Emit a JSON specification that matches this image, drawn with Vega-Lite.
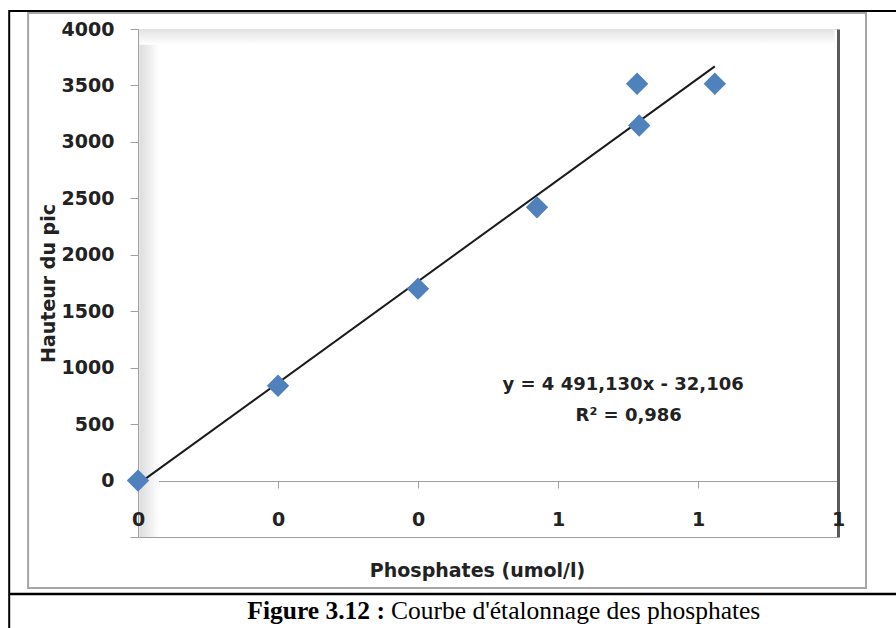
{
  "$schema": "https://vega.github.io/schema/vega-lite/v6.json",
  "width": 700,
  "height": 508,
  "autosize": {"type": "none"},
  "padding": {"left": 138, "top": 29, "right": 58, "bottom": 91},
  "background": "white",
  "config": {
    "view": {"stroke": "#d4d4d4", "strokeWidth": 1},
    "font": "DejaVu Sans"
  },
  "data": {
    "values": [
      {"phosphates": 0.0, "hauteur": 0},
      {"phosphates": 0.2, "hauteur": 840},
      {"phosphates": 0.4, "hauteur": 1700},
      {"phosphates": 0.57, "hauteur": 2420},
      {"phosphates": 0.713, "hauteur": 3515},
      {"phosphates": 0.716, "hauteur": 3145},
      {"phosphates": 0.824, "hauteur": 3515}
    ]
  },
  "resolve": {"axis": {"x": "independent", "y": "independent"}},
  "layer": [
    {
      "data": {"values": [{}]},
      "mark": {
        "type": "rect",
        "color": {
          "gradient": "linear", "x1": 0, "y1": 0, "x2": 1, "y2": 0,
          "stops": [{"offset": 0, "color": "#dcdcdc"}, {"offset": 1, "color": "#ffffff"}]
        }
      },
      "encoding": {
        "x": {"datum": 0.002, "type": "quantitative", "scale": {"domain": [0, 1], "nice": false}, "axis": null},
        "x2": {"datum": 0.03},
        "y": {"datum": -500, "type": "quantitative", "scale": {"domain": [-500, 4000], "nice": false}, "axis": null},
        "y2": {"datum": 3990}
      }
    },
    {
      "data": {"values": [{}]},
      "mark": {
        "type": "rect",
        "color": {
          "gradient": "linear", "x1": 0, "y1": 0, "x2": 0, "y2": 1,
          "stops": [{"offset": 0, "color": "#e2e2e2"}, {"offset": 1, "color": "#ffffff"}]
        }
      },
      "encoding": {
        "x": {"datum": 0.002, "type": "quantitative", "scale": {"domain": [0, 1], "nice": false}, "axis": null},
        "x2": {"datum": 0.995},
        "y": {"datum": 4000, "type": "quantitative", "scale": {"domain": [-500, 4000], "nice": false}, "axis": null},
        "y2": {"datum": 3860}
      }
    },
    {
      "data": {"values": [{}]},
      "mark": {"type": "rect", "filled": false, "color": "#a6a6a6", "strokeWidth": 2},
      "encoding": {
        "x": {"datum": -0.157, "type": "quantitative", "scale": {"domain": [0, 1], "nice": false}, "axis": null},
        "x2": {"datum": 1.04},
        "y": {"datum": 4141, "type": "quantitative", "scale": {"domain": [-500, 4000], "nice": false}, "axis": null},
        "y2": {"datum": -952}
      }
    },
    {
      "data": {"values": [{}]},
      "mark": {"type": "rect", "filled": false, "color": "#000000", "strokeWidth": 2},
      "encoding": {
        "x": {"datum": -0.184, "type": "quantitative", "scale": {"domain": [0, 1], "nice": false}, "axis": null},
        "x2": {"datum": 1.25},
        "y": {"datum": 4159, "type": "quantitative", "scale": {"domain": [-500, 4000], "nice": false}, "axis": null},
        "y2": {"datum": -1600}
      }
    },
    {
      "data": {"values": [{}]},
      "mark": {"type": "rule", "color": "#000000", "strokeWidth": 2.5},
      "encoding": {
        "x": {"datum": -0.184, "type": "quantitative", "scale": {"domain": [0, 1], "nice": false}, "axis": null},
        "x2": {"datum": 1.25},
        "y": {"datum": -1005, "type": "quantitative", "scale": {"domain": [-500, 4000], "nice": false}, "axis": null}
      }
    },
    {
      "data": {
        "values": [
          {"phosphates": 0, "hauteur": -32.106},
          {"phosphates": 0.824, "hauteur": 3668.6}
        ]
      },
      "mark": {"type": "line", "color": "#1a1a1a", "strokeWidth": 2},
      "encoding": {
        "x": {
          "field": "phosphates", "type": "quantitative",
          "scale": {"domain": [0, 1], "nice": false},
          "axis": {
            "orient": "bottom", "offset": -56, "labels": false, "title": null, "grid": false,
            "values": [0, 0.2, 0.4, 0.6, 0.8, 1],
            "domainColor": "#a0a0a0", "tickColor": "#a0a0a0", "tickSize": 7
          }
        },
        "y": {
          "field": "hauteur", "type": "quantitative",
          "scale": {"domain": [-500, 4000], "nice": false},
          "axis": {
            "orient": "right", "labels": false, "ticks": false, "title": null, "grid": false,
            "domainColor": "#5a5a5a", "domainWidth": 3
          }
        }
      }
    },
    {
      "mark": {"type": "point", "shape": "diamond", "filled": true, "size": 500, "color": "#4F81BD", "opacity": 1, "strokeWidth": 0},
      "encoding": {
        "x": {
          "field": "phosphates", "type": "quantitative",
          "scale": {"domain": [0, 1], "nice": false},
          "axis": {
            "orient": "bottom", "grid": false, "ticks": false, "tickSize": 0, "zindex": 1,
            "values": [0, 0.2, 0.4, 0.6, 0.8, 1], "format": ".0f",
            "domainColor": "#a0a0a0",
            "labelPadding": -18, "labelBaseline": "middle", "labelFlush": false, "labelOverlap": false,
            "labelFontSize": 19, "labelFontWeight": "bold", "labelColor": "#222222",
            "title": "Phosphates (umol/l)", "titleFontSize": 19, "titleFontWeight": "bold",
            "titleColor": "#222222", "titlePadding": 24, "titleX": 339
          }
        },
        "y": {
          "field": "hauteur", "type": "quantitative",
          "scale": {"domain": [-500, 4000], "nice": false},
          "axis": {
            "orient": "left", "grid": false,
            "values": [-500, 0, 500, 1000, 1500, 2000, 2500, 3000, 3500, 4000], "format": "d",
            "labelExpr": "datum.value < 0 ? '' : datum.label",
            "tickSize": 8, "tickColor": "#a0a0a0", "domainColor": "#a0a0a0",
            "labelPadding": 16, "labelFontSize": 19, "labelFontWeight": "bold", "labelColor": "#222222",
            "title": "Hauteur du pic", "titleFontSize": 19, "titleFontWeight": "bold",
            "titleColor": "#222222", "titlePadding": 3
          }
        }
      }
    },
    {
      "data": {"values": [{}]},
      "mark": {"type": "text", "text": "y = 4 491,130x - 32,106", "fontSize": 18, "fontWeight": "bold", "color": "#222222", "align": "center", "baseline": "middle"},
      "encoding": {
        "x": {"datum": 0.693, "type": "quantitative", "scale": {"domain": [0, 1], "nice": false}, "axis": null},
        "y": {"datum": 846, "type": "quantitative", "scale": {"domain": [-500, 4000], "nice": false}, "axis": null}
      }
    },
    {
      "data": {"values": [{}]},
      "mark": {"type": "text", "text": "R² = 0,986", "fontSize": 18, "fontWeight": "bold", "color": "#222222", "align": "center", "baseline": "middle"},
      "encoding": {
        "x": {"datum": 0.701, "type": "quantitative", "scale": {"domain": [0, 1], "nice": false}, "axis": null},
        "y": {"datum": 572, "type": "quantitative", "scale": {"domain": [-500, 4000], "nice": false}, "axis": null}
      }
    },
    {
      "data": {"values": [{}]},
      "mark": {"type": "text", "text": "Figure 3.12 :", "font": "Liberation Serif", "fontSize": 25.5, "fontWeight": "bold", "color": "#000000", "align": "right", "baseline": "alphabetic", "dx": -2},
      "encoding": {
        "x": {"datum": 0.3557, "type": "quantitative", "scale": {"domain": [0, 1], "nice": false}, "axis": null},
        "y": {"datum": -1228, "type": "quantitative", "scale": {"domain": [-500, 4000], "nice": false}, "axis": null}
      }
    },
    {
      "data": {"values": [{}]},
      "mark": {"type": "text", "text": "Courbe d'étalonnage des phosphates", "font": "Liberation Serif", "fontSize": 25.5, "color": "#000000", "align": "left", "baseline": "alphabetic", "dx": 4},
      "encoding": {
        "x": {"datum": 0.3557, "type": "quantitative", "scale": {"domain": [0, 1], "nice": false}, "axis": null},
        "y": {"datum": -1228, "type": "quantitative", "scale": {"domain": [-500, 4000], "nice": false}, "axis": null}
      }
    }
  ]
}
